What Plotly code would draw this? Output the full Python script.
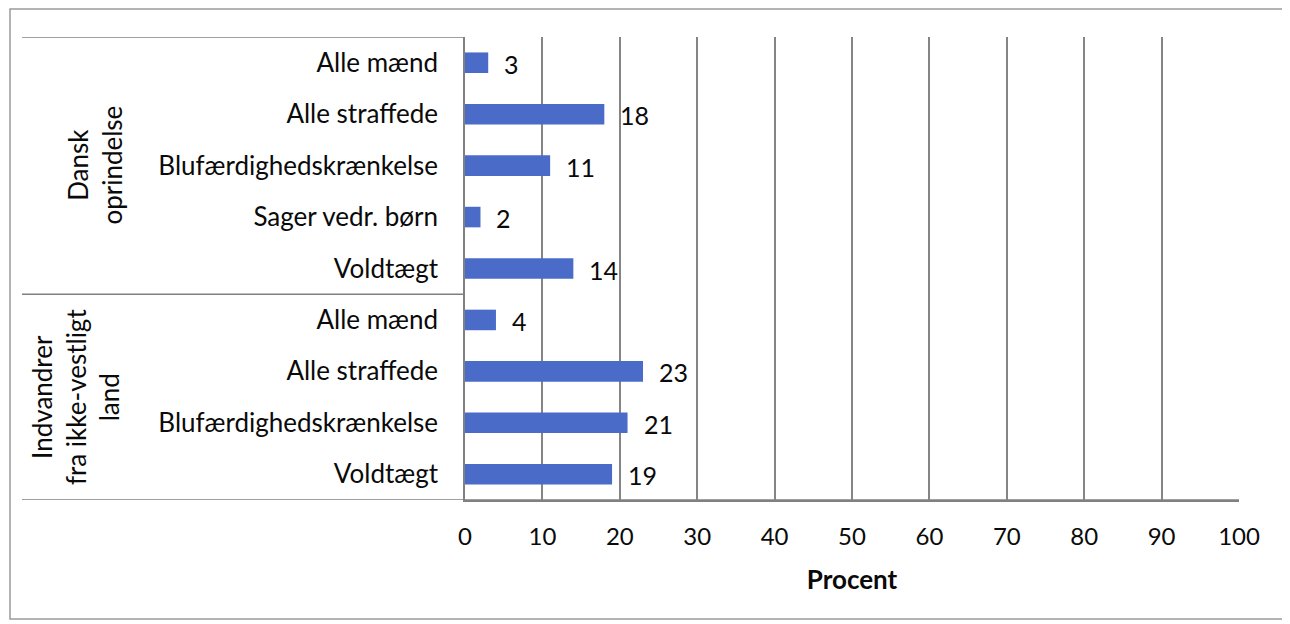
import plotly.graph_objects as go

# ---- data ----
groups = ["Dansk<br>oprindelse", "Indvandrer<br>fra ikke-vestligt<br>land"]
group_sizes = [5, 4]
categories = [
    "Alle mænd", "Alle straffede", "Blufærdighedskrænkelse", "Sager vedr. børn", "Voldtægt",
    "Alle mænd", "Alle straffede", "Blufærdighedskrænkelse", "Voldtægt",
]
values = [3, 18, 11, 2, 14, 4, 23, 21, 19]
x_ticks = [0, 10, 20, 30, 40, 50, 60, 70, 80, 90, 100]
x_title = "Procent"

FONT = "Lato"
TXT = "#0a0a0a"
BAR_COLOR = "#4a6cc8"
OFF = 8  # page body margin
W, H = 1290 - OFF, 624 - OFF
L, R, T, B = 465 - OFF, 51, 37 - OFF, 124
pw, ph = W - L - R, H - T - B

def px_x(p):  # reference pixel -> paper
    return (p - OFF - L) / pw

def px_y(p):
    return (H - B - (p - OFF)) / ph

idx = list(range(len(categories)))

fig = go.Figure()
fig.add_trace(go.Bar(
    x=values, y=idx, orientation="h", width=0.4,
    marker=dict(color=BAR_COLOR, line=dict(width=0)),
    hoverinfo="x+y",
))

# value labels
for i, v in zip(idx, values):
    fig.add_annotation(x=v, y=i, xref="x", yref="y", text=str(v), showarrow=False,
                       xanchor="left", yanchor="middle", xshift=14, yshift=-1,
                       font=dict(family=FONT, size=25, color=TXT))

# group labels and separators
line_col = "#808080"
fig.add_shape(type="line", xref="paper", yref="y", x0=px_x(22), x1=0, y0=-0.5, y1=-0.5,
              line=dict(color=line_col, width=1.5))
start = 0
for g, n in zip(groups, group_sizes):
    mid = start + (n - 1) / 2
    fig.add_annotation(x=px_x(95 if n == 5 else 76), y=mid, xref="paper", yref="y", text=g,
                       textangle=-90, showarrow=False, xanchor="center", yanchor="middle",
                       font=dict(family=FONT, size=26, color=TXT), align="center")
    end = start + n - 0.5
    fig.add_shape(type="line", xref="paper", yref="y", x0=px_x(22), x1=0 if start == 0 else 1,
                  y0=end, y1=end, line=dict(color=line_col, width=1.5))
    start += n

# outer border
fig.add_shape(type="rect", xref="paper", yref="paper", x0=px_x(10), x1=px_x(1287),
              y0=px_y(619), y1=px_y(9), line=dict(color="#9a9a9a", width=1.5),
              fillcolor="rgba(0,0,0,0)", layer="below")

fig.update_layout(
    width=W, height=H, autosize=False,
    margin=dict(l=L, r=R, t=T, b=B, pad=0),
    paper_bgcolor="white", plot_bgcolor="white",
    showlegend=False, bargap=0.6,
    font=dict(family=FONT, size=25, color=TXT),
    xaxis=dict(range=[0, 100], tickvals=x_ticks, ticktext=[str(t) for t in x_ticks],
               showgrid=True, gridcolor="#858585", gridwidth=1.5,
               showline=True, linecolor=line_col, linewidth=1.5,
               zeroline=False, ticks="", ticklabelstandoff=14,
               tickfont=dict(family=FONT, size=24, color=TXT),
               title=dict(text="<b>" + x_title + "</b>", standoff=22,
                          font=dict(family=FONT, size=26, color=TXT)),
               fixedrange=True),
    yaxis=dict(range=[8.5, -0.5], tickvals=idx, ticktext=categories,
               showgrid=False, zeroline=False,
               showline=True, linecolor=line_col, linewidth=1.5,
               ticks="", ticklabelstandoff=20,
               tickfont=dict(family=FONT, size=26, color=TXT),
               fixedrange=True),
)

fig.write_html("out.html")
